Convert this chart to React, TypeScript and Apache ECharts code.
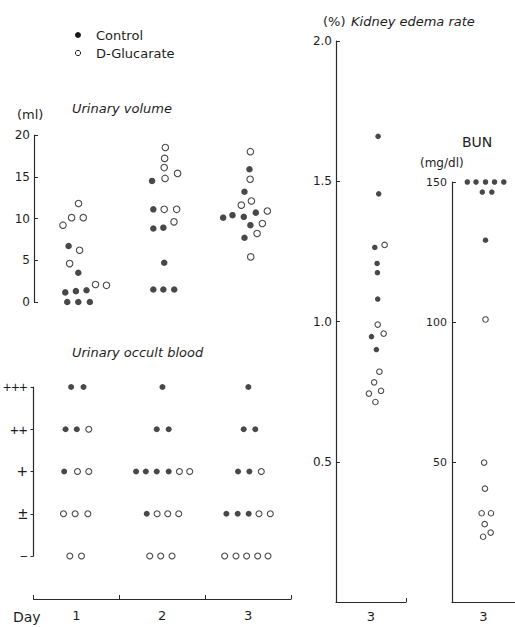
import React, { useEffect, useRef } from "react";
import * as echarts from "echarts";

// ---------- data ----------
const DAYS = ["1", "2", "3"];
const DAY3 = ["3"];
const OCCULT_LEVELS = ["−", "±", "+", "++", "+++"];

// Urinary volume (ml): [day position, value]
const volumeControl: [number, number][] = [
  [0.904, 6.7], [1.017, 3.5], [0.865, 1.15], [0.989, 1.3], [1.113, 1.4], [0.888, 0], [1.017, 0], [1.152, 0],
  [1.878, 14.5], [1.893, 11.1], [1.893, 8.8], [2.01, 8.9], [2.02, 4.7], [1.893, 1.5], [2.01, 1.5], [2.137, 1.5],
  [3.015, 15.9], [2.957, 13.2], [2.708, 10.1], [2.817, 10.4], [2.949, 10.2], [3.089, 10.7], [3.026, 9.2], [2.957, 7.7],
];
const volumeGlucarate: [number, number][] = [
  [0.838, 9.2], [0.939, 10.1], [1.02, 11.8], [1.075, 10.1], [1.032, 6.2], [0.916, 4.6], [1.218, 2.1], [1.346, 2.0],
  [2.033, 18.5], [2.025, 17.2], [2.02, 16.1], [2.03, 14.8], [2.176, 15.4], [2.02, 11.1], [2.165, 11.1], [2.134, 9.6],
  [3.026, 18.0], [3.023, 14.7], [3.038, 12.1], [2.92, 11.6], [3.224, 10.9], [3.166, 9.4], [3.104, 8.2], [3.03, 5.4],
];

// Urinary occult blood: [day position, level index]
const occultControl: [number, number][] = [
  [0.938, 4], [1.082, 4], [2.002, 4], [3.003, 4],
  [0.873, 3], [1.004, 3], [1.936, 3], [2.075, 3], [2.949, 3], [3.084, 3],
  [0.857, 2], [1.695, 2], [1.808, 2], [1.936, 2], [2.075, 2], [2.883, 2], [3.015, 2],
  [1.819, 1], [2.747, 1], [2.879, 1], [3.007, 1],
];
const occultGlucarate: [number, number][] = [
  [1.144, 3],
  [1.012, 2], [1.144, 2], [2.2, 2], [2.32, 2], [3.154, 2],
  [0.849, 1], [0.985, 1], [1.133, 1], [1.94, 1], [2.064, 1], [2.192, 1], [3.127, 1], [3.259, 1],
  [0.923, 0], [1.059, 0], [1.854, 0], [1.982, 0], [2.114, 0], [2.727, 0], [2.859, 0], [2.983, 0], [3.112, 0], [3.232, 0],
];

// Kidney edema rate (%), day 3
const edemaControl: [number, number][] = [
  [3.101, 1.66], [3.11, 1.455], [3.054, 1.264], [3.087, 1.207], [3.092, 1.174], [3.096, 1.08], [3.007, 0.946], [3.077, 0.9],
];
const edemaGlucarate: [number, number][] = [
  [3.195, 1.273], [3.096, 0.989], [3.181, 0.957], [3.12, 0.821], [3.045, 0.783], [2.97, 0.743], [3.143, 0.753], [3.063, 0.713],
];

// BUN (mg/dl), day 3
const bunControl: [number, number][] = [
  [2.743, 150], [2.881, 150], [3.032, 150], [3.175, 150], [3.322, 150], [2.981, 146.4], [3.132, 146.4], [3.032, 129.2],
];
const bunGlucarate: [number, number][] = [
  [3.032, 100.9], [3.01, 49.8], [3.023, 40.5], [2.971, 31.7], [3.119, 31.7], [3.019, 27.8], [2.994, 23.3], [3.114, 24.8],
];

// ---------- styles ----------
const FONT = "DejaVu Sans";
const INK = "#1e1e1e";
const LINE = "#2a2a2a";

const filledStyle = { color: "#1a1a1a" };
const openStyle = { color: "#fff", borderColor: "#1e1e1e", borderWidth: 1.1 };

function scatter(name: string, data: [number, number][], xi: number, yi: number, filled: boolean, size: number) {
  return {
    type: "scatter",
    name,
    data,
    xAxisIndex: xi,
    yAxisIndex: yi,
    symbol: "circle",
    symbolSize: size,
    itemStyle: filled ? filledStyle : openStyle,
    clip: false,
    silent: true,
  };
}

const axisLine = { show: true, lineStyle: { color: LINE, width: 1.2 } };

function hiddenX(grid: number, min: number, max: number) {
  return { type: "value", gridIndex: grid, min, max, show: false, position: "top" };
}

function catX(grid: number, data: string[], offset: number, margin: number) {
  return {
    type: "category",
    gridIndex: grid,
    data,
    position: "bottom",
    offset,
    boundaryGap: true,
    axisLine,
    axisTick: { show: true, inside: true, length: 4, lineStyle: { color: LINE } },
    axisLabel: { color: INK, fontFamily: FONT, fontSize: 13, margin },
    splitLine: { show: false },
  };
}

function textEl(x: number, y: number, text: string, size: number, italic = false, align = "left") {
  return {
    type: "text",
    x,
    y,
    style: {
      text,
      fill: INK,
      font: `${italic ? "italic " : ""}${size}px "${FONT}"`,
      textAlign: align,
      textVerticalAlign: "middle",
    },
    silent: true,
  };
}

const levelRich = {
  l0: { fontSize: 13, fontFamily: "Liberation Sans", color: INK },
  l1: { fontSize: 17, fontFamily: "Liberation Sans", color: INK },
  l2: { fontSize: 18, fontFamily: "Liberation Sans", color: INK },
  l3: { fontSize: 15, fontFamily: "Liberation Sans", color: INK },
  l4: { fontSize: 14, fontFamily: "Liberation Sans", color: INK },
};

export default function App() {
  const ref = useRef<HTMLDivElement>(null);

  useEffect(() => {
    if (!ref.current) return;
    const chart = echarts.init(ref.current, undefined, { renderer: "svg" });

    const option = {
      animation: false,
      backgroundColor: "#fff",
      grid: [
        { left: 34, top: 135, width: 257, height: 167 },
        { left: 33, top: 387, width: 258, height: 169 },
        { left: 336, top: 41, width: 70, height: 561 },
        { left: 452, top: 182, width: 74, height: 420 },
      ],
      xAxis: [
        hiddenX(0, 0.5, 3.5),
        hiddenX(1, 0.5, 3.5),
        catX(1, DAYS, 43, 10),
        hiddenX(2, 2.5, 3.5),
        catX(2, DAY3, 0, 8),
        hiddenX(3, 2.5, 3.5),
        catX(3, DAY3, 0, 8),
      ],
      yAxis: [
        {
          type: "value",
          gridIndex: 0,
          min: 0,
          max: 20,
          interval: 5,
          axisLine,
          axisTick: { show: true, inside: true, length: 4, lineStyle: { color: LINE } },
          axisLabel: { color: INK, fontFamily: FONT, fontSize: 12, margin: 4 },
          splitLine: { show: false },
        },
        {
          type: "value",
          gridIndex: 1,
          min: 0,
          max: 4,
          interval: 1,
          axisLine,
          axisTick: { show: true, inside: false, length: 3, lineStyle: { color: LINE } },
          axisLabel: {
            color: INK,
            fontFamily: "Liberation Sans",
            margin: 6,
            formatter: (v: number) => {
              const i = Math.round(v);
              return OCCULT_LEVELS[i] !== undefined ? `{l${i}|${OCCULT_LEVELS[i]}}` : "";
            },
            rich: levelRich,
          },
          splitLine: { show: false },
        },
        {
          type: "value",
          gridIndex: 2,
          min: 0,
          max: 2,
          interval: 0.5,
          axisLine,
          axisTick: { show: true, inside: true, length: 4, lineStyle: { color: LINE } },
          axisLabel: {
            color: INK,
            fontFamily: FONT,
            fontSize: 12,
            margin: 4,
            formatter: (v: number) => (v === 0 ? "" : v.toFixed(1)),
          },
          splitLine: { show: false },
        },
        {
          type: "value",
          gridIndex: 3,
          min: 0,
          max: 150,
          interval: 50,
          axisLine,
          axisTick: { show: true, inside: true, length: 4, lineStyle: { color: LINE } },
          axisLabel: {
            color: INK,
            fontFamily: FONT,
            fontSize: 11,
            margin: 5,
            formatter: (v: number) => (v === 0 ? "" : String(v)),
          },
          splitLine: { show: false },
        },
      ],
      series: [
        scatter("Control", volumeControl, 0, 0, true, 6.5),
        scatter("D-Glucarate", volumeGlucarate, 0, 0, false, 6.5),
        scatter("Control", occultControl, 1, 1, true, 6),
        scatter("D-Glucarate", occultGlucarate, 1, 1, false, 6),
        scatter("Control", edemaControl, 3, 2, true, 5.5),
        scatter("D-Glucarate", edemaGlucarate, 3, 2, false, 5.5),
        scatter("Control", bunControl, 5, 3, true, 5.5),
        scatter("D-Glucarate", bunGlucarate, 5, 3, false, 5.5),
      ],
      graphic: [
        { type: "circle", shape: { cx: 78, cy: 35, r: 3 }, style: { fill: "#1a1a1a" }, silent: true },
        textEl(96, 35, "Control", 13),
        { type: "circle", shape: { cx: 78, cy: 53, r: 2.6 }, style: { fill: "#fff", stroke: "#1e1e1e", lineWidth: 1 }, silent: true },
        textEl(96, 53, "D-Glucarate", 13),
        textEl(17, 114, "(ml)", 13),
        textEl(72, 108, "Urinary volume", 13, true),
        textEl(72, 352, "Urinary occult blood", 13, true),
        textEl(323, 21, "(%)", 13),
        textEl(351, 21, "Kidney edema rate", 13, true),
        textEl(462, 142, "BUN", 14),
        textEl(420, 163, "(mg/dl)", 12),
        textEl(13, 617, "Day", 14),
      ],
    };

    chart.setOption(option as any);
    return () => chart.dispose();
  }, []);

  return (
    <div
      ref={ref}
      style={{ position: "fixed", left: 0, top: 0, width: 515, height: 627, background: "#fff" }}
    />
  );
}
